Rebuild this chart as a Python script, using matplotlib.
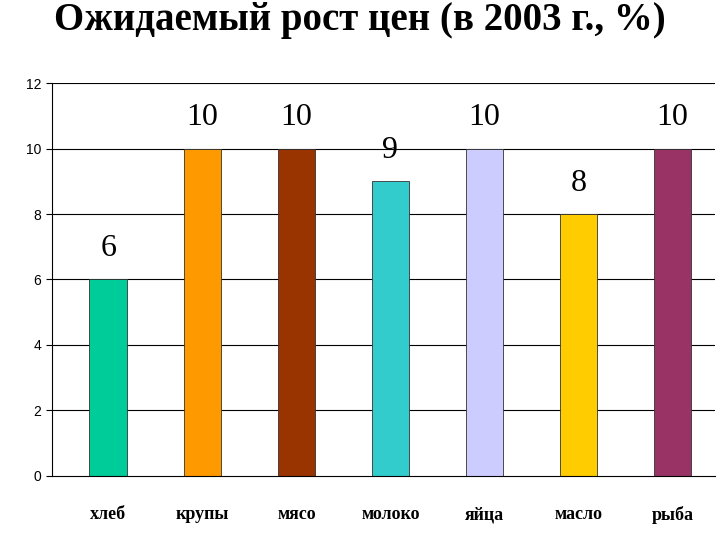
import matplotlib
matplotlib.use("Agg")
import matplotlib.pyplot as plt

categories = ["хлеб", "крупы", "мясо", "молоко", "яйца", "масло", "рыба"]
values = [6, 10, 10, 9, 10, 8, 10]
colors = ["#00CC99", "#FF9900", "#993300", "#33CCCC", "#CCCCFF", "#FFCC00", "#993366"]
yticks = [0, 2, 4, 6, 8, 10, 12]

fig = plt.figure(figsize=(7.2, 5.4), dpi=100)
ax = fig.add_axes([0.072, 0.119, 0.921, 0.727])
x = range(len(categories))
ax.set_axisbelow(True)
for yv in yticks[1:]:
    ax.axhline(yv, color="black", lw=0.8, zorder=0)
ax.bar(x, values, width=0.4, color=colors, edgecolor="#333333", linewidth=0.6, zorder=2)
for xi, v in zip(x, values):
    ax.text(xi, v + 0.5, str(v), ha="center", va="bottom", fontsize=23, family="Liberation Serif")
ax.set_ylim(0, 12)
ax.set_xlim(-0.6, 6.45)
ax.set_yticks(yticks)
ax.set_yticklabels([str(t) for t in yticks], fontsize=10, family="Liberation Sans")
ax.set_xticks(list(x))
ax.set_xticklabels(categories, fontsize=13, family="Liberation Serif", fontweight="bold")
ax.tick_params(axis="x", length=0, pad=22)
ax.tick_params(axis="y", length=4, direction="out")
for s in ["top", "right"]:
    ax.spines[s].set_visible(False)
fig.text(0.5, 0.962, "Ожидаемый рост цен (в 2003 г., %)", ha="center", va="center",
         fontsize=28, fontweight="bold", family="Liberation Serif")
fig.savefig("out.png", dpi=100)
